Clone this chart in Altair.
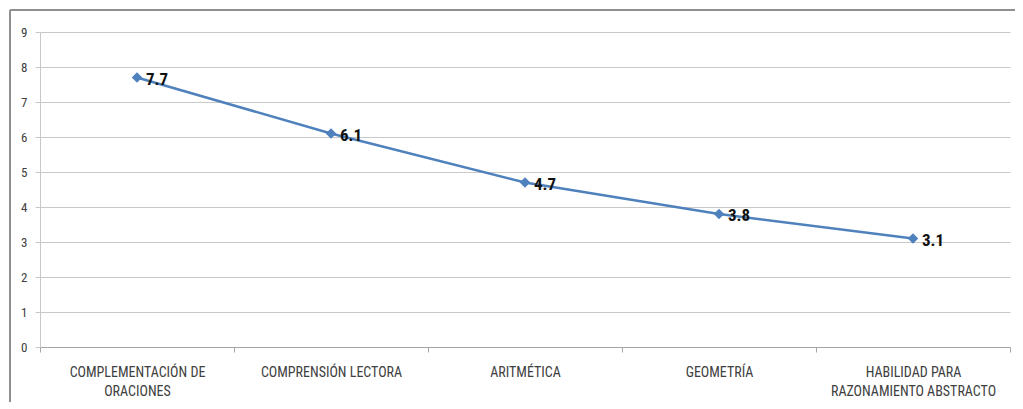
import altair as alt
import pandas as pd

categories = ["COMPLEMENTACIÓN DE ORACIONES", "COMPRENSIÓN LECTORA", "ARITMÉTICA",
              "GEOMETRÍA", "HABILIDAD PARA RAZONAMIENTO ABSTRACTO"]
label_lines = [["COMPLEMENTACIÓN DE", "ORACIONES"], ["COMPRENSIÓN LECTORA"], ["ARITMÉTICA"],
               ["GEOMETRÍA"], ["HABILIDAD PARA", "RAZONAMIENTO ABSTRACTO"]]
values = [7.7, 6.1, 4.7, 3.8, 3.1]
y_ticks = list(range(0, 10))

df = pd.DataFrame({"cat": categories, "val": values})

expr = "''"
for c, lines in reversed(list(zip(categories, label_lines))):
    arr = "[" + ",".join("'" + l + "'" for l in lines) + "]"
    expr = f"datum.value == '{c}' ? {arr} : ({expr})"

FONT = "Liberation Sans Narrow, Arial Narrow, Roboto Condensed, Liberation Sans, sans-serif"
BLUE = "#4F81BD"

x = alt.X("cat:N", sort=categories, title=None,
          scale=alt.Scale(type="band", paddingInner=0, paddingOuter=0),
          axis=alt.Axis(labelAngle=0, labelExpr=expr, tickBand="extent", grid=False,
                        domainColor="#a6a6a6", tickColor="#a6a6a6", tickSize=5,
                        labelColor="#404040", labelFont=FONT, labelFontSize=14,
                        labelPadding=13, labelLineHeight=19, labelLimit=250))
y = alt.Y("val:Q", title=None,
          scale=alt.Scale(domain=[0, 9], nice=False),
          axis=alt.Axis(values=y_ticks, grid=True, gridColor="#c8c8c8", domainColor="#c8c8c8",
                        tickColor="#c8c8c8", tickSize=5, labelColor="#404040",
                        labelFont=FONT, labelFontSize=13, labelPadding=8, format="d"))

base = alt.Chart(df)
line = base.mark_line(color=BLUE, strokeWidth=2.5).encode(x=x, y=y)
pts = base.mark_point(shape="diamond", filled=True, color=BLUE, size=110, opacity=1).encode(x=x, y=y)
txt = base.mark_text(align="left", baseline="middle", dx=9, dy=2, fontSize=17, fontWeight="bold",
                     font=FONT, color="#111111").encode(x=x, y=y, text=alt.Text("val:Q", format=".1f"))
border = base.mark_rect(fill=None, stroke="#8c8c8c", strokeWidth=1).encode(
    x=alt.value(-30), x2=alt.value(978), y=alt.value(-22), y2=alt.value(400))

chart = alt.layer(border, line, pts, txt).properties(
    width=970, height=315,
    autosize=alt.AutoSizeParams(type="none"),
    padding={"left": 32, "top": 24, "right": 5, "bottom": 55},
).configure_view(stroke=None)

chart.save("out.html", embed_options={"renderer": "svg", "actions": False})
